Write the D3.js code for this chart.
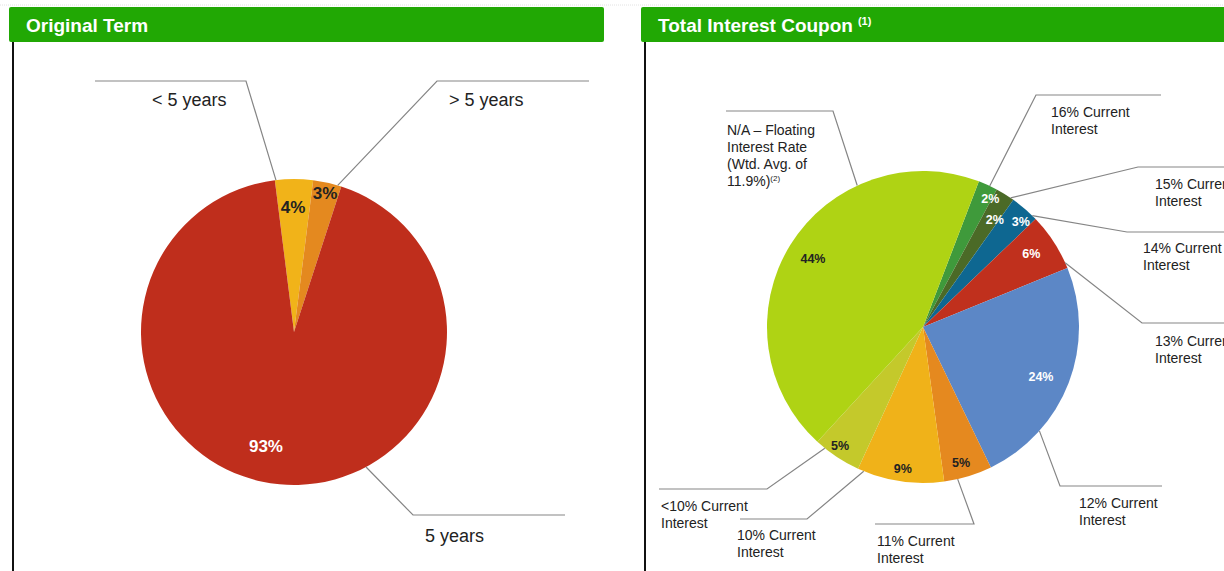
<!DOCTYPE html>
<html>
<head>
<meta charset="utf-8">
<script src="https://cdn.jsdelivr.net/npm/d3@7"></script>
<style>
  body { margin: 0; background: #fff; }
  svg { display: block; font-family: "Liberation Sans", Arial, sans-serif; }
  .lead { fill: none; stroke: #858585; stroke-width: 1.2; }
  .lbl { fill: #222; }
</style>
</head>
<body>
<script>
// chart data
var termLabels = [["< 5 years"], ["> 5 years"], ["5 years"]];
var termValues = [4, 3, 93];
var termColors = ["#f1b319", "#e4891f", "#bf2e1c"];

var couponLabels = [
    ["16% Current", "Interest"],
    ["15% Current", "Interest"],
    ["14% Current", "Interest"],
    ["13% Current", "Interest"],
    ["12% Current", "Interest"],
    ["11% Current", "Interest"],
    ["10% Current", "Interest"],
    ["<10% Current", "Interest"],
    ["N/A \u2013 Floating", "Interest Rate", "(Wtd. Avg. of", "11.9%)"]
];
var couponValues = [2, 2, 3, 6, 24, 5, 9, 5, 44];
var couponColors = ["#3f9a3b", "#4b6a27", "#0e6791", "#c0301d", "#5c87c6", "#e5891f", "#f0b219", "#c4c92b", "#afd314"];

// layout: leader anchor (fraction of slice), elbow, line end, text pos
var termLayout = [
    {t: 0.03, ex: 246, ey: 81, hx: 95, tx: 152, ty: 106, pt: 0.47, pr: 0.82, pc: "#222"},
    {t: 0.87, ex: 437, ey: 81, hx: 589, tx: 449, ty: 106, pt: 0.5, pr: 0.93, pc: "#222"},
    {t: 0.40, ex: 413, ey: 515, hx: 565, tx: 425, ty: 542, pt: 0.525, pr: 0.77, pc: "#fff"}
];
var couponLayout = [
    {t: 0.60, ex: 1036, ey: 95, hx: 1161, tx: 1051, ty: 117, pt: 0.92, pr: 0.93, pc: "#fff"},
    {t: 0.83, ex: 1138, ey: 167, hx: 1230, tx: 1155, ty: 189, pt: 0.76, pr: 0.83, pc: "#fff"},
    {t: 0.84, ex: 1127, ey: 232, hx: 1230, tx: 1143, ty: 253, pt: 0.70, pr: 0.92, pc: "#fff"},
    {t: 0.90, ex: 1142, ey: 323, hx: 1230, tx: 1155, ty: 346, pt: 0.44, pr: 0.84, pc: "#fff"},
    {t: 0.74, ex: 1060, ey: 486, hx: 1162, tx: 1079, ty: 508, pt: 0.52, pr: 0.82, pc: "#fff"},
    {t: 0.72, ex: 974, ey: 524, hx: 875, tx: 877, ty: 546, pt: 0.56, pr: 0.90, pc: "#222"},
    {t: 0.93, ex: 807, ey: 519, hx: 740, tx: 737, ty: 540, pt: 0.49, pr: 0.92, pc: "#222"},
    {t: 0.80, ex: 767, ey: 489, hx: 659, tx: 661, ty: 511, pt: 0.57, pr: 0.93, pc: "#222"},
    {t: 0.71, ex: 833, ey: 111, hx: 726, tx: 727, ty: 135, pt: 0.50, pr: 0.83, pc: "#222"}
];

var width = 1224, height = 571;
var svg = d3.select("body").append("svg")
    .attr("width", width)
    .attr("height", height);

// faint dotted rule along the top
svg.append("line")
    .attr("x1", 0).attr("x2", width).attr("y1", 5).attr("y2", 5)
    .style("stroke", "#e2e2e2").style("stroke-dasharray", "1,1");

//panel headers and left borders
function panel(x, w, title, sup){
    svg.append("rect")
        .attr("x", x).attr("y", 7).attr("width", w).attr("height", 35)
        .attr("rx", 2)
        .style("fill", "#21a804");
    svg.append("line")
        .attr("x1", x + 4).attr("x2", x + 4).attr("y1", 42).attr("y2", height)
        .style("stroke", "#111").style("stroke-width", 2);
    var t = svg.append("text")
        .attr("x", x + 17).attr("y", 32)
        .style("fill", "#fff").style("font-weight", "bold").style("font-size", "19px")
        .text(title);
    if (sup){
        t.append("tspan")
            .attr("dx", 5).attr("dy", -7)
            .style("font-size", "11px")
            .text(sup);
    }
}
panel(9, 595, "Original Term");
panel(641, 600, "Total Interest Coupon", "(1)");

function drawPie(values, colors, labels, layout, cx, cy, r, startDeg, opts){
    var a0 = startDeg * Math.PI / 180;
    var pie = d3.pie().sort(null).value(function(d){ return d; })
        .startAngle(a0).endAngle(a0 + 2 * Math.PI);
    var arcs = pie(values);
    var arc = d3.arc().innerRadius(0).outerRadius(r);

    var g = svg.append("g").attr("transform", "translate(" + cx + "," + cy + ")");
    g.selectAll("path")
        .data(arcs)
        .enter()
        .append("path")
        .attr("d", arc)
        .style("fill", function(d, i){ return colors[i]; });

    function polar(d, t, rr){
        var a = d.startAngle + t * (d.endAngle - d.startAngle);
        return [rr * Math.sin(a), -rr * Math.cos(a)];
    }

    // percent labels
    g.selectAll(".pct")
        .data(arcs)
        .enter()
        .append("text")
        .attr("class", "pct")
        .attr("x", function(d, i){ return polar(d, layout[i].pt, r * layout[i].pr)[0]; })
        .attr("y", function(d, i){ return polar(d, layout[i].pt, r * layout[i].pr)[1]; })
        .attr("dy", "0.35em")
        .attr("text-anchor", "middle")
        .style("font-weight", "bold")
        .style("font-size", opts.pctSize)
        .style("fill", function(d, i){ return layout[i].pc; })
        .text(function(d){ return d.data + "%"; });

    // leader lines
    arcs.forEach(function(d, i){
        var L = layout[i];
        var p = polar(d, L.t, r);
        svg.append("polyline")
            .attr("class", "lead")
            .attr("points", [[cx + p[0], cy + p[1]], [L.ex, L.ey], [L.hx, L.ey]].join(" "));
        var txt = svg.append("text")
            .attr("class", "lbl")
            .attr("x", L.tx).attr("y", L.ty)
            .style("font-size", opts.lblSize);
        labels[i].forEach(function(line, k){
            txt.append("tspan")
                .attr("x", L.tx)
                .attr("dy", k === 0 ? 0 : opts.lineH)
                .text(line);
        });
    });
    return arcs;
}

drawPie(termValues, termColors, termLabels, termLayout, 294, 332, 153, -7.2,
    {pctSize: "17px", lblSize: "18px", lineH: 20});
drawPie(couponValues, couponColors, couponLabels, couponLayout, 923, 327, 156, 21,
    {pctSize: "12.5px", lblSize: "14px", lineH: 17});

// footnote marker on the floating-rate label
svg.selectAll(".lbl").filter(function(){ return this.textContent.indexOf("11.9%") >= 0; })
    .select("tspan:last-child")
    .append("tspan")
    .attr("dy", -5)
    .style("font-size", "8px")
    .text("(2)");
</script>
</body>
</html>
